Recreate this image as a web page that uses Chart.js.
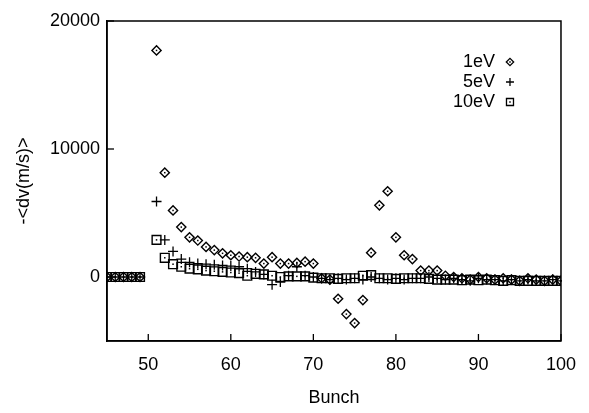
<!DOCTYPE html>
<html><head><meta charset="utf-8">
<script src="https://cdn.jsdelivr.net/npm/chart.js@4/dist/chart.umd.min.js"></script>
<style>html,body{margin:0;padding:0;background:#fff}</style>
</head><body>
<canvas id="c" width="589" height="413"></canvas>
<script>
const bunches = [45,46,47,48,49,51,52,53,54,55,56,57,58,59,60,61,62,63,64,65,66,67,68,69,70,71,72,73,74,75,76,77,78,79,80,81,82,83,84,85,86,87,88,89,90,91,92,93,94,95,96,97,98,99,100];
const seriesLabels = ['1eV','5eV','10eV'];
const ev1 = [0,0,0,0,0,17700,8150,5200,3900,3100,2850,2350,2100,1850,1700,1600,1550,1500,1050,1550,1050,1050,1100,1200,1050,-100,-200,-1700,-2900,-3600,-1800,1900,5600,6700,3100,1700,1400,500,500,500,100,0,-100,-200,0,-100,-200,-100,-200,-300,-100,-200,-300,-200,-300];
const ev5 = [0,0,0,0,0,5900,2900,2000,1400,1150,1050,1000,950,900,850,800,650,400,200,-600,-400,100,800,100,0,-100,-200,-100,-200,-100,-200,0,-100,-200,-100,-200,-100,-100,0,-100,-200,-100,-200,-300,-100,-200,-200,-300,-200,-300,-200,-300,-300,-200,-300];
const ev10 = [0,0,0,0,0,2900,1500,1000,800,650,600,500,450,400,350,300,100,250,200,100,0,50,50,50,-50,-100,-100,-150,-100,-100,100,150,-100,-100,-150,-100,-100,-100,-150,-200,-200,-200,-250,-200,-250,-200,-250,-300,-250,-300,-300,-300,-300,-300,-300];
const xTicks = [50,60,70,80,90,100];
const yTicks = [0,10000,20000];

const toPts = arr => bunches.map((b,i)=>({x:b,y:arr[i]}));
const FONT = "'Liberation Sans', Arial, sans-serif";

const frame = {
  id:'frame',
  afterDraw(chart){
    const {ctx, chartArea:a, scales} = chart;
    ctx.save();
    ctx.strokeStyle='#000'; ctx.lineWidth=1.5;
    ctx.strokeRect(a.left, a.top, a.right-a.left, a.bottom-a.top);
    ctx.lineWidth=1.3;
    xTicks.forEach(v=>{const px=scales.x.getPixelForValue(v); ctx.beginPath(); ctx.moveTo(px,a.bottom); ctx.lineTo(px,a.bottom-7); ctx.stroke();});
    yTicks.forEach(v=>{const py=scales.y.getPixelForValue(v); ctx.beginPath(); ctx.moveTo(a.left,py); ctx.lineTo(a.left+7,py); ctx.stroke();});
    // legend
    chart.data.datasets.forEach((ds,i)=>{
      const y = a.top + 41 + i*20;
      ctx.font = '18px ' + FONT; ctx.fillStyle='#000'; ctx.textAlign='right'; ctx.textBaseline='middle';
      ctx.fillText(ds.label, a.right-66, y);
      ctx.fillStyle='rgba(255,255,255,0)'; ctx.strokeStyle='#000'; ctx.lineWidth=1.3;
      Chart.helpers.drawPoint(ctx, {pointStyle: ds.pointStyle, radius: ds.pointRadius*0.8, borderWidth: 1.3, rotation:0}, a.right-51, y);
      ctx.fillStyle='#000';
      if (ds.pointStyle!=='cross'){ ctx.fillRect(a.right-51.75, y-0.75, 1.5, 1.5); }
    });
    ctx.restore();
  },
  afterDatasetsDraw(chart){
    const ctx = chart.ctx; ctx.save(); ctx.fillStyle='#000';
    chart.data.datasets.forEach((ds,i)=>{
      if (ds.pointStyle==='cross') return;
      chart.getDatasetMeta(i).data.forEach(el=>{ if(!el.skip && isFinite(el.y)) ctx.fillRect(el.x-0.75, el.y-0.75, 1.5, 1.5); });
    });
    ctx.restore();
  }
};

new Chart(document.getElementById('c'), {
  type:'scatter',
  data:{datasets:[
    {label:seriesLabels[0], data:toPts(ev1), pointStyle:'rectRot', pointRadius:4.6, borderColor:'#000', backgroundColor:'rgba(255,255,255,0)', pointBorderWidth:1.4},
    {label:seriesLabels[1], data:toPts(ev5), pointStyle:'cross', pointRadius:5, borderColor:'#000', backgroundColor:'#000', pointBorderWidth:1.3},
    {label:seriesLabels[2], data:toPts(ev10), pointStyle:'rect', pointRadius:6.2, borderColor:'#000', backgroundColor:'rgba(255,255,255,0)', pointBorderWidth:1.4}
  ]},
  options:{
    responsive:false, animation:false, devicePixelRatio:1,
    layout:{padding:{top:21,right:23,left:0,bottom:0}},
    plugins:{legend:{display:false}, tooltip:{enabled:false}},
    scales:{
      x:{type:'linear', min:45, max:100,
        afterBuildTicks:s=>{s.ticks=xTicks.map(v=>({value:v}));},
        afterFit:s=>{s.height=72;},
        grid:{drawOnChartArea:false, drawTicks:false},
        border:{display:true,color:'#000',width:1.5},
        ticks:{color:'#000', padding:13, font:{family:FONT,size:18}},
        title:{display:true, text:'Bunch', color:'#000', font:{family:FONT,size:18}, padding:{top:0,bottom:4}}
      },
      y:{type:'linear', min:-5000, max:20000,
        afterBuildTicks:s=>{s.ticks=yTicks.map(v=>({value:v}));},
        afterFit:s=>{s.width=107;},
        grid:{drawOnChartArea:false, drawTicks:false},
        border:{display:true,color:'#000',width:1.5},
        ticks:{color:'#000', padding:7, font:{family:FONT,size:18}, callback:v=>String(v)},
        title:{display:true, text:'-<dv(m/s)>', color:'#000', font:{family:FONT,size:18}, padding:{top:13,bottom:0}}
      }
    }
  },
  plugins:[frame]
});
</script>
</body></html>
